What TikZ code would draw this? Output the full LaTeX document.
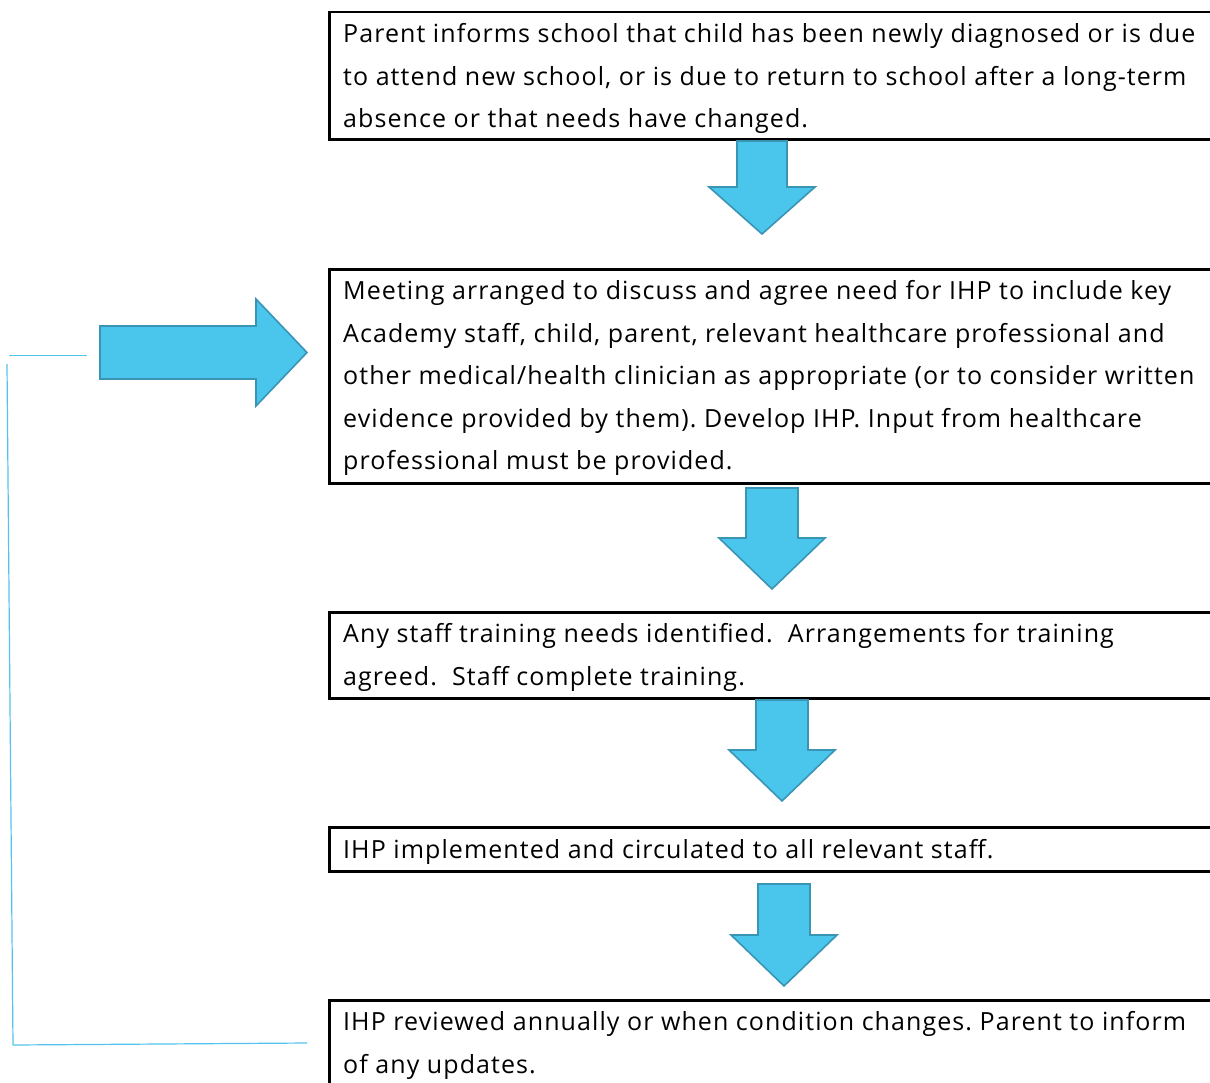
\documentclass[tikz,border=0pt]{standalone}
\usepackage{fontspec}
\setmainfont{Open Sans}[LetterSpace=4.3]
\frenchspacing
\definecolor{arrfill}{HTML}{4AC5EC}
\definecolor{arredge}{HTML}{3A95B5}
\definecolor{loopline}{HTML}{52C3EE}
\tikzset{
  box/.style={draw=black, line width=2.6pt, anchor=north west, inner sep=0pt, minimum width=902pt},
  txt/.style={anchor=base west, inner sep=0pt, align=left, font=\fontsize{25}{42.5}\selectfont\frenchspacing},
  blockarrow/.style={fill=arrfill, draw=arredge, line width=1.6pt, line join=miter},
  loop/.style={draw=loopline, line width=1.2pt}
}
\begin{document}
\begin{tikzpicture}[x=1pt,y=-1pt]
\useasboundingbox (0,0) rectangle (1210,1082);
\clip (0,0) rectangle (1210,1082);
% boxes
\node[box, minimum height=127.5pt] (b1) at (328,10.5) {};
\node[box, minimum height=214pt] (b2) at (328,268) {};
\node[box, minimum height=86pt] (b3) at (328,611) {};
\node[box, minimum height=44pt] (b4) at (328,826) {};
\node[box, minimum height=110pt] (b5) at (328,999) {};
% texts (base anchor = baseline of last line)
\node[txt] (t1) at (343,127.5) {Parent informs school that child has been newly diagnosed or is due\\to attend new school, or is due to return to school after a long-term\\absence or that needs have changed.};
\node[txt] (t2) at (343,469.5) {Meeting arranged to discuss and agree need for IHP to include key\\Academy staff, child, parent, relevant healthcare professional and\\other medical/health clinician as appropriate (or to consider written\\evidence provided by them). Develop IHP. Input from healthcare\\professional must be provided.};
\node[txt] (t3) at (343,685) {Any staff training needs identified.\ \ Arrangements for training\\agreed.\ \ Staff complete training.};
\node[txt] (t4) at (343,858) {IHP implemented and circulated to all relevant staff.};
\node[txt] (t5) at (343,1073) {IHP reviewed annually or when condition changes. Parent to inform\\of any updates.};
% down block arrows
\draw[blockarrow] (737,141) -- (787,141) -- (787,187) -- (815,187) -- (762,234) -- (709,187) -- (737,187) -- cycle;
\draw[blockarrow] (746,488) -- (798,488) -- (798,538) -- (825,538) -- (772,589) -- (719,538) -- (746,538) -- cycle;
\draw[blockarrow] (756,700) -- (808,700) -- (808,750) -- (835,750) -- (782,801) -- (729,750) -- (756,750) -- cycle;
\draw[blockarrow] (758,884) -- (810,884) -- (810,935) -- (837,935) -- (784,986) -- (731,935) -- (758,935) -- cycle;
% right block arrow
\draw[blockarrow] (100,326) -- (256,326) -- (256,299) -- (307,352.5) -- (256,406) -- (256,379) -- (100,379) -- cycle;
% loop lines
\coordinate (l1a) at (9,355.5);
\coordinate (l1b) at (87,355.5);
\coordinate (l2a) at (7,364);
\coordinate (l2b) at (13,1045);
\coordinate (l3b) at (307,1043);
\draw[loop] (l1a) -- (l1b);
\draw[loop] (l2a) -- (l2b);
\draw[loop] (l2b) -- (l3b);
\end{tikzpicture}
\end{document}
